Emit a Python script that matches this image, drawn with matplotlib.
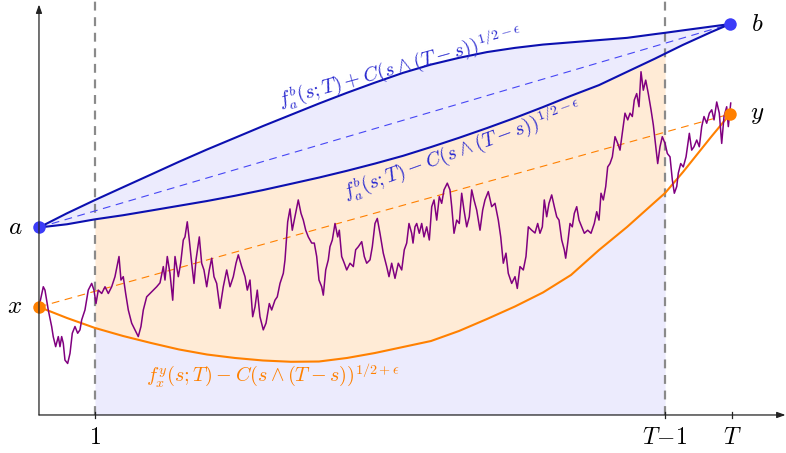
import numpy as np
import matplotlib
matplotlib.use("Agg")
import matplotlib.pyplot as plt

plt.rcParams['mathtext.fontset'] = 'cm'
plt.rcParams['font.family'] = ['DejaVu Serif']

# ---- data (schematic units, the tick "1" is one unit) ----
T = 12.375
T_minus_1 = 11.18
s_end = 12.34

a_val, b_val = 3.35, 6.98
x_val, y_val = 1.93, 5.375

# curves on a common grid of s
s_grid = [0, 0.5, 1, 1.5, 2, 2.5, 3, 3.5, 4, 4.5, 5, 5.5, 6, 6.5, 7, 7.5, 8, 8.5,
          9, 9.5, 10, 10.5, 11, 11.18, 11.5, 12, 12.34]
upper_blue = [3.348, 3.602, 3.839, 4.067, 4.294, 4.522, 4.741, 4.950, 5.160, 5.361,
              5.562, 5.754, 5.936, 6.110, 6.258, 6.378, 6.481, 6.556, 6.615, 6.655,
              6.695, 6.735, 6.802, 6.825, 6.869, 6.936, 6.982]
lower_blue = [3.348, 3.406, 3.494, 3.567, 3.651, 3.736, 3.821, 3.915, 4.017, 4.128,
              4.240, 4.361, 4.490, 4.628, 4.785, 4.950, 5.124, 5.306, 5.499, 5.700,
              5.891, 6.128, 6.364, 6.453, 6.610, 6.837, 6.982]
orange_low = [1.929, 1.732, 1.554, 1.411, 1.286, 1.170, 1.080, 1.018, 0.973, 0.950,
              0.955, 1.018, 1.107, 1.214, 1.321, 1.500, 1.714, 1.938, 2.188, 2.500,
              2.946, 3.357, 3.804, 3.964, 4.339, 4.964, 5.375]

# the bridge path (purple), read point by point
walk_s = [0, 0.077, 0.107, 0.166, 0.227, 0.255, 0.298, 0.345, 0.375, 0.405, 0.434, 0.464,
          0.512, 0.554, 0.595, 0.643, 0.691, 0.732, 0.763, 0.821, 0.880, 0.941, 0.982,
          1.018, 1.059, 1.120, 1.179, 1.238, 1.298, 1.357, 1.429, 1.464, 1.505, 1.548,
          1.595, 1.655, 1.714, 1.773, 1.821, 1.863, 1.923, 1.982, 2.041, 2.102, 2.161,
          2.220, 2.250, 2.291, 2.339, 2.388, 2.429, 2.488, 2.530, 2.577, 2.607, 2.648,
          2.684, 2.727, 2.768, 2.804, 2.863, 2.905, 2.946, 2.995, 3.041, 3.084, 3.125,
          3.173, 3.232, 3.291, 3.352, 3.411, 3.470, 3.518, 3.559, 3.620, 3.679, 3.720,
          3.768, 3.816, 3.857, 3.898, 3.946, 4.005, 4.054, 4.113, 4.155, 4.214, 4.255,
          4.304, 4.363, 4.393, 4.441, 4.482, 4.523, 4.571, 4.630, 4.679, 4.720, 4.763,
          4.809, 4.870, 4.916, 4.959, 5.000, 5.048, 5.077, 5.120, 5.166, 5.196, 5.238,
          5.286, 5.334, 5.363, 5.405, 5.452, 5.495, 5.554, 5.613, 5.655, 5.702, 5.763,
          5.809, 5.852, 5.911, 5.952, 6.000, 6.041, 6.089, 6.148, 6.209, 6.250, 6.298,
          6.357, 6.416, 6.477, 6.523, 6.566, 6.607, 6.655, 6.679, 6.714, 6.745, 6.791,
          6.834, 6.875, 6.923, 6.970, 7.013, 7.054, 7.102, 7.148, 7.191, 7.232, 7.291,
          7.339, 7.370, 7.411, 7.459, 7.505, 7.548, 7.589, 7.638, 7.684, 7.727, 7.768,
          7.816, 7.875, 7.923, 7.964, 8.023, 8.084, 8.143, 8.202, 8.245, 8.291, 8.339,
          8.380, 8.441, 8.500, 8.541, 8.589, 8.648, 8.696, 8.738, 8.798, 8.857, 8.905,
          8.946, 8.988, 9.023, 9.066, 9.107, 9.155, 9.202, 9.245, 9.286, 9.334, 9.380,
          9.405, 9.441, 9.482, 9.523, 9.559, 9.602, 9.643, 9.691, 9.738, 9.798, 9.857,
          9.916, 9.959, 10.000, 10.036, 10.077, 10.120, 10.155, 10.196, 10.238, 10.286,
          10.334, 10.375, 10.416, 10.464, 10.513, 10.554, 10.595, 10.630, 10.673, 10.714,
          10.750, 10.791, 10.834, 10.880, 10.929, 10.970, 11.000, 11.048, 11.089, 11.130,
          11.179, 11.220, 11.268, 11.309, 11.345, 11.388, 11.416, 11.459, 11.505, 11.554,
          11.613, 11.655, 11.696, 11.745, 11.791, 11.834, 11.875, 11.923, 11.970, 12.013,
          12.054, 12.102, 12.148, 12.191, 12.232, 12.280, 12.309, 12.352]
walk_v = [1.93, 2.29, 2.23, 1.875, 1.577, 1.398, 1.22, 1.40, 1.22, 1.40, 1.28, 0.98,
          0.92, 1.10, 1.46, 1.58, 1.46, 1.52, 1.70, 1.875, 2.23, 2.35, 2.23,
          1.99, 2.23, 2.17, 2.29, 2.17, 2.29, 2.47, 2.83, 2.41, 2.47, 2.17,
          1.875, 1.64, 1.52, 1.40, 1.58, 1.875, 2.11, 2.17, 2.23, 2.29, 2.36,
          2.65, 2.41, 2.83, 2.53, 2.05, 2.83, 2.47, 2.71, 3.125, 3.18, 3.45,
          3.125, 2.71, 2.35, 2.77, 3.18, 2.71, 2.59, 2.29, 2.59, 2.80, 2.47,
          2.35, 1.905, 2.29, 2.59, 2.29, 2.47, 2.71, 2.86, 2.65, 2.47, 2.23,
          2.41, 1.755, 1.93, 2.23, 1.755, 1.52, 1.64, 1.99, 1.875, 2.05, 2.11,
          2.35, 2.53, 2.77, 3.45, 3.68, 3.30, 3.54, 3.84, 3.60, 3.48, 3.30,
          3.18, 3.07, 3.07, 2.83, 2.41, 2.29, 2.14, 2.59, 2.77, 3.005, 3.125,
          3.42, 3.18, 3.30, 2.83, 2.71, 2.59, 2.71, 2.65, 2.95, 3.005, 3.095,
          2.83, 2.71, 2.77, 3.005, 3.42, 3.51, 3.245, 2.89, 2.65, 2.47, 2.71,
          2.44, 2.71, 2.59, 2.95, 3.07, 3.42, 3.245, 3.07, 3.36, 3.42, 3.245,
          3.42, 3.18, 3.36, 3.125, 3.72, 3.84, 3.48, 3.90, 3.78, 4.02, 4.14,
          4.02, 3.72, 3.245, 3.48, 3.42, 3.96, 3.66, 3.36, 3.54, 4.02, 3.84,
          3.66, 3.30, 3.66, 3.84, 3.99, 3.72, 3.78, 3.48, 3.18, 2.71, 2.89,
          2.53, 2.35, 2.47, 2.26, 2.65, 2.59, 2.83, 3.36, 3.30, 3.25, 3.42,
          3.245, 3.36, 3.84, 3.54, 3.78, 3.93, 3.72, 3.54, 3.48, 3.125, 2.95,
          2.80, 3.07, 3.42, 3.36, 3.60, 3.72, 3.48, 3.36, 3.245, 3.30, 3.245,
          3.42, 3.63, 3.48, 3.96, 3.84, 4.08, 4.43, 4.49, 4.61, 4.97,
          4.85, 4.73, 5.03, 5.39, 5.27, 5.39, 5.33, 5.625, 5.74, 5.505,
          6.13, 5.80, 5.98, 5.74, 5.45, 5.18, 4.91, 4.49, 4.79, 4.97,
          4.85, 4.67, 4.61, 4.20, 3.96, 4.08, 4.32, 4.49, 4.43, 4.61,
          5.03, 4.73, 4.79, 4.91, 4.79, 5.15, 5.33, 5.21, 5.39, 5.45,
          5.27, 5.59, 5.39, 4.85, 5.33, 5.505, 5.15, 5.57]

xticks = [1, T_minus_1, T]
xtick_labels = ['$1$', '$T\\!-\\!1$', '$T$']

# ---- colours ----
lavender = '#ecebfd'
peach = '#ffebd6'
dark_blue = '#0c10b0'
label_blue = '#2a2ad0'
mid_blue = '#4646f5'
point_blue = '#3c3cf8'
orange = '#ff8000'
purple = '#800080'
gray = '#8a8a8a'

fig = plt.figure(figsize=(7.86, 4.53), dpi=100)
ax = fig.add_axes([0, 0, 1, 1])
ax.set_xlim(-0.696, 13.339)
ax.set_ylim(-0.679, 7.411)
ax.axis('off')

s = np.array(s_grid)
up = np.array(upper_blue)
lo = np.array(lower_blue)
org = np.array(orange_low)
mid = (s >= 1) & (s <= T_minus_1 + 1e-9)

# fills
ax.fill_between(s, lo, up, color=lavender, lw=0, zorder=1)
ax.fill_between(s, 0, org, where=mid, color=lavender, lw=0, zorder=1)
ax.fill_between(s, org, lo, where=mid, color=peach, lw=0, zorder=1)

# vertical dashed guides
for xv in [1, T_minus_1]:
    ax.plot([xv, xv], [0, 7.4], color=gray, lw=1.6, ls=(0, (4, 3)), zorder=2)

# straight dashed lines between end points
ax.plot([0, s_end], [a_val, b_val], color=mid_blue, lw=0.8, ls=(0, (7, 5)), zorder=3)
ax.plot([0, s_end], [x_val, y_val], color=orange, lw=0.8, ls=(0, (7, 5)), zorder=3)

# envelopes
ax.plot(s, up, color=dark_blue, lw=1.5, zorder=4, solid_joinstyle='round')
ax.plot(s, lo, color=dark_blue, lw=1.5, zorder=4, solid_joinstyle='round')
ax.plot(s, org, color=orange, lw=1.5, zorder=4, solid_joinstyle='round')

# the path
ax.plot(walk_s, walk_v, color=purple, lw=1.1, zorder=5)

# end points
ax.plot([0, s_end], [a_val, b_val], 'o', color=point_blue, ms=9, mec='none', zorder=6)
ax.plot([0, s_end], [x_val, y_val], 'o', color=orange, ms=9, mec='none', zorder=6)

# axes with arrows
ax.annotate('', xy=(13.33, 0), xytext=(0, 0),
            arrowprops=dict(arrowstyle='-|>,head_length=0.5,head_width=0.18',
                            color='#222222', lw=0.9, shrinkA=0, shrinkB=0), zorder=7)
ax.annotate('', xy=(0, 7.33), xytext=(0, 0),
            arrowprops=dict(arrowstyle='-|>,head_length=0.5,head_width=0.18',
                            color='#222222', lw=0.9, shrinkA=0, shrinkB=0), zorder=7)
for xv, lab in zip(xticks, xtick_labels):
    ax.plot([xv, xv], [-0.06, 0.06], color='#222222', lw=0.9, zorder=7)
    ax.text(xv, -0.40, lab, ha='center', va='center', fontsize=17, zorder=7)

# point labels
ax.text(-0.43, a_val, '$a$', ha='center', va='center', fontsize=18)
ax.text(-0.43, x_val, '$x$', ha='center', va='center', fontsize=18)
ax.text(12.82, b_val, '$b$', ha='center', va='center', fontsize=18)
ax.text(12.82, y_val, '$y$', ha='center', va='center', fontsize=18)

# curve labels
ax.text(6.45, 6.22, r'$f_a^b(s;T)+C(s\wedge(T-s))^{1/2-\epsilon}$', color=label_blue,
        fontsize=14.5, rotation=15.5, rotation_mode='anchor', ha='center', va='center', zorder=8)
ax.text(7.55, 4.73, r'$f_a^b(s;T)-C(s\wedge(T-s))^{1/2-\epsilon}$', color=label_blue,
        fontsize=14.5, rotation=20, rotation_mode='anchor', ha='center', va='center', zorder=8)
ax.text(4.18, 0.70, r'$f_x^y(s;T)-C(s\wedge(T-s))^{1/2+\epsilon}$', color=orange,
        fontsize=14.5, ha='center', va='center', zorder=8)

fig.savefig('out.png', dpi=100)
